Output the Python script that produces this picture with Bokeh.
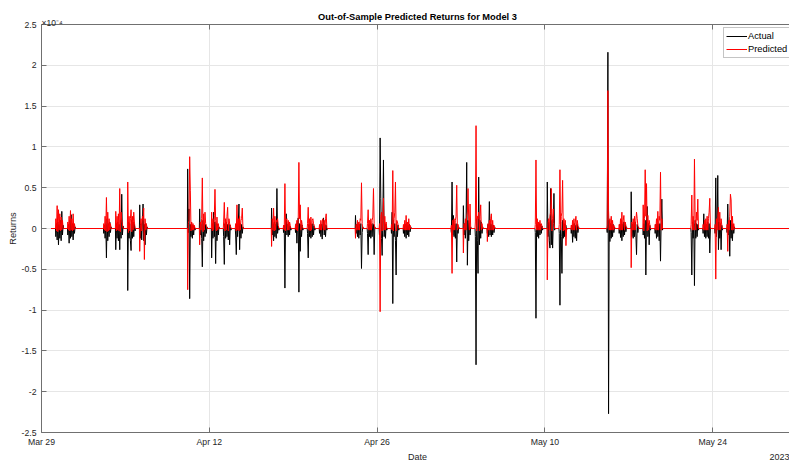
import pandas as pd
from bokeh.plotting import figure
from bokeh.models import (Range1d, FixedTicker, DatetimeAxis, Label, Legend,
                          LegendItem, ColumnDataSource)
from bokeh.embed import file_html
from bokeh.resources import INLINE

# ---------------- data (returns in units of 1e-4) ----------------
TRADING_DAYS = ["2023-03-30", "2023-03-31", "2023-04-03", "2023-04-04", "2023-04-05",
                "2023-04-06", "2023-04-10", "2023-04-11", "2023-04-12", "2023-04-13",
                "2023-04-14", "2023-04-17", "2023-04-18", "2023-04-19", "2023-04-20",
                "2023-04-21", "2023-04-24", "2023-04-25", "2023-04-26", "2023-04-27",
                "2023-04-28", "2023-05-02", "2023-05-03", "2023-05-04", "2023-05-05",
                "2023-05-09", "2023-05-10", "2023-05-11", "2023-05-12", "2023-05-15",
                "2023-05-16", "2023-05-17", "2023-05-18", "2023-05-19", "2023-05-22",
                "2023-05-23", "2023-05-24", "2023-05-25"]

ACTUAL = [
    [-0.10, 0.06, -0.14, 0.08, -0.20, 0.05, -0.12, 0.10, -0.15, 0.21, -0.08, 0.04],
    [-0.08, 0.05, -0.18, 0.10, -0.12, 0.17, -0.10, 0.06, -0.14, 0.05, -0.06, 0.02],
    [-0.06, 0.04, -0.12, 0.05, -0.36, 0.12, -0.15, 0.06, -0.10, 0.08, -0.05, 0.02],
    [-0.26, 0.06, -0.12, 0.08, -0.15, 0.05, -0.26, 0.10, -0.12, 0.42, -0.08, 0.03],
    [-0.76, 0.08, -0.12, 0.06, -0.15, -0.27, 0.10, -0.12, 0.08, -0.10, 0.05, -0.03],
    [0.29, -0.12, 0.06, -0.14, 0.08, 0.30, -0.15, 0.05, -0.20, 0.06, -0.08, 0.02],
    [0.73, -0.05, 0.24, -0.86, 0.05, -0.10, 0.06, -0.12, 0.04, -0.08, 0.03, -0.02],
    [0.24, -0.08, 0.06, -0.12, -0.47, 0.10, -0.15, 0.06, -0.10, 0.05, -0.06, 0.02],
    [-0.36, 0.06, -0.12, 0.20, -0.10, 0.08, -0.43, 0.06, -0.15, 0.05, -0.08, 0.02],
    [-0.10, -0.44, 0.06, -0.12, 0.08, -0.10, 0.05, -0.14, 0.06, -0.20, 0.04, -0.02],
    [-0.08, -0.32, 0.05, -0.10, 0.08, 0.30, -0.26, 0.06, -0.12, 0.05, -0.06, 0.02],
    [0.25, -0.08, 0.06, -0.15, 0.08, -0.10, 0.05, -0.12, 0.49, -0.06, 0.03, -0.02],
    [-0.05, 0.04, -0.73, 0.06, 0.18, -0.08, 0.05, -0.10, 0.06, -0.08, 0.03, -0.02],
    [-0.05, 0.06, -0.18, 0.05, 0.13, -0.78, 0.06, -0.28, 0.05, -0.10, 0.04, -0.02],
    [-0.06, -0.36, 0.05, -0.10, 0.06, -0.12, 0.05, -0.10, 0.06, -0.08, 0.03, -0.02],
    [-0.06, 0.04, -0.10, 0.05, -0.13, 0.06, 0.13, -0.08, 0.05, -0.10, 0.04, -0.02],
    [0.16, -0.06, 0.05, -0.10, 0.06, -0.12, 0.05, -0.08, 0.06, -0.49, -0.05, 0.02],
    [-0.06, -0.32, 0.05, -0.10, 0.06, -0.12, 0.05, -0.10, 0.06, 0.05, -0.32, 0.02],
    [-0.08, 1.11, 0.37, -0.12, -0.33, 0.10, 0.84, -0.10, 0.06, -0.12, 0.05, -0.02],
    [-0.06, 0.20, -0.92, 0.10, -0.10, 0.06, -0.15, -0.57, 0.05, -0.10, 0.04, -0.02],
    [-0.06, 0.04, -0.10, 0.05, -0.12, 0.06, -0.08, 0.04, -0.10, 0.05, -0.04, 0.02],
    [-0.05, 0.57, -0.08, 0.16, -0.10, 0.05, -0.12, 0.06, -0.41, 0.05, -0.06, 0.02],
    [0.28, -0.08, 0.06, -0.12, 0.05, 0.81, -0.45, 0.10, -0.15, 0.06, -0.08, 0.02],
    [-0.10, -1.67, 0.12, -0.15, -0.55, 0.63, -0.20, 0.10, -0.12, 0.08, -0.06, 0.02],
    [-0.06, 0.05, -0.10, 0.33, -0.08, 0.06, -0.10, 0.05, -0.08, 0.04, -0.05, 0.02],
    [-0.05, -1.10, 0.06, -0.10, 0.05, -0.12, 0.06, -0.08, 0.05, -0.06, 0.03, -0.02],
    [0.57, -0.10, 0.08, -0.15, -0.24, 0.49, -0.20, 0.10, -0.24, 0.06, 0.43, -0.02],
    [-0.06, -0.94, 0.08, -0.10, -0.55, 0.10, -0.12, 0.06, -0.10, 0.05, 0.04, -0.02],
    [-0.06, 0.04, -0.17, 0.05, -0.10, 0.06, -0.12, 0.04, -0.15, 0.05, -0.05, 0.02],
    [-0.05, 2.16, -2.27, 0.10, -0.16, 0.06, -0.12, 0.05, -0.10, 0.05, -0.05, 0.02],
    [-0.06, 0.05, -0.11, 0.06, -0.15, 0.05, -0.10, 0.08, -0.08, 0.05, -0.04, 0.02],
    [0.45, -0.10, 0.05, -0.12, 0.06, -0.10, 0.08, -0.08, -0.32, 0.05, -0.05, 0.02],
    [-0.08, 0.06, -0.12, 0.10, -0.57, 0.08, 0.27, -0.10, 0.06, -0.20, 0.04, -0.02],
    [-0.06, 0.05, -0.12, 0.06, -0.10, 0.05, -0.15, 0.06, -0.40, 0.08, 0.36, -0.02],
    [-0.05, -0.57, 0.08, -0.12, 0.06, -0.70, 0.10, -0.12, 0.06, -0.10, 0.05, -0.02],
    [-0.06, 0.18, -0.10, 0.06, -0.12, 0.05, -0.10, 0.08, -0.12, 0.06, -0.30, 0.02],
    [-0.06, 0.62, -0.10, 0.08, 0.65, -0.26, 0.08, -0.12, 0.06, -0.26, 0.04, -0.02],
    [-0.05, 0.30, -0.08, 0.06, -0.34, 0.10, -0.12, 0.06, -0.15, 0.05, -0.06, 0.02],
]

PREDICTED = [
    [0.12, -0.03, 0.28, -0.04, 0.23, -0.02, 0.18, -0.03, 0.14, -0.02, 0.10, 0.0],
    [0.08, -0.02, 0.15, -0.03, 0.22, -0.02, 0.12, -0.03, 0.18, -0.02, 0.06, 0.0],
    [0.06, -0.02, 0.15, -0.03, 0.38, -0.04, 0.20, -0.03, 0.12, -0.02, 0.06, 0.0],
    [0.21, -0.03, 0.15, -0.02, 0.18, -0.03, 0.49, -0.04, 0.20, 0.10, 0.06, 0.0],
    [0.57, -0.05, 0.15, -0.03, 0.12, 0.23, -0.04, 0.15, -0.02, 0.20, 0.08, 0.0],
    [-0.28, 0.05, 0.12, -0.03, 0.15, 0.10, 0.25, -0.38, 0.12, -0.02, 0.06, 0.0],
    [-0.75, 0.06, 0.10, 0.88, 0.47, -0.03, 0.08, -0.02, 0.06, -0.02, 0.04, 0.0],
    [-0.20, 0.08, -0.02, 0.12, 0.62, -0.04, 0.18, -0.02, 0.20, 0.06, 0.04, 0.0],
    [0.20, -0.03, 0.12, -0.02, 0.16, 0.48, 0.10, -0.03, 0.14, -0.02, 0.06, 0.0],
    [0.08, 0.32, -0.03, 0.12, -0.02, 0.15, 0.26, -0.03, 0.12, 0.06, 0.04, 0.0],
    [0.06, -0.03, 0.29, -0.02, 0.12, -0.03, 0.15, -0.02, 0.10, 0.12, 0.25, 0.0],
    [-0.22, 0.12, -0.02, 0.25, -0.03, 0.15, -0.02, 0.10, 0.08, 0.12, 0.04, 0.0],
    [0.04, -0.02, 0.55, -0.03, 0.10, 0.12, -0.02, 0.10, -0.02, 0.08, 0.04, 0.0],
    [0.05, -0.02, 0.10, -0.03, 0.08, 0.81, 0.12, 0.29, -0.02, 0.10, 0.04, 0.0],
    [0.06, 0.26, -0.02, 0.12, -0.03, 0.14, -0.02, 0.10, 0.12, 0.06, 0.04, 0.0],
    [0.05, -0.02, 0.10, -0.02, 0.08, 0.12, -0.02, 0.10, -0.02, 0.12, 0.18, 0.0],
    [-0.12, 0.05, -0.02, 0.10, -0.02, 0.08, -0.02, 0.12, 0.10, 0.56, 0.06, 0.0],
    [0.06, 0.23, -0.02, 0.10, -0.02, 0.12, -0.02, 0.10, 0.14, 0.49, 0.06, 0.0],
    [0.06, -1.02, 0.15, 0.20, -0.03, 0.12, 0.37, -0.02, 0.15, -0.02, 0.08, 0.0],
    [0.05, -0.02, 0.71, -0.03, 0.12, 0.20, 0.57, -0.03, 0.10, 0.08, 0.04, 0.0],
    [0.05, -0.02, 0.10, -0.02, 0.16, -0.02, 0.08, -0.02, 0.12, -0.02, 0.04, 0.0],
    [0.04, -0.55, 0.10, -0.02, 0.12, -0.02, 0.10, 0.15, 0.53, -0.02, 0.05, 0.0],
    [-0.30, 0.06, -0.02, 0.12, -0.02, 0.15, 0.20, 0.49, 0.10, -0.02, 0.30, 0.0],
    [0.08, 1.26, -0.03, 0.15, 0.12, 0.20, -0.03, 0.15, 0.29, -0.02, 0.06, 0.0],
    [-0.16, 0.06, -0.02, 0.10, -0.02, 0.12, 0.18, -0.02, 0.10, -0.02, 0.04, 0.0],
    [0.05, 0.84, -0.02, 0.12, -0.02, 0.08, -0.02, 0.10, -0.02, 0.06, 0.03, 0.0],
    [-0.63, 0.06, 0.12, -0.02, 0.15, 0.20, 0.49, -0.03, 0.12, 0.24, 0.08, 0.0],
    [0.05, 0.72, -0.02, 0.15, 0.20, 0.59, -0.03, 0.12, -0.02, 0.10, -0.21, 0.0],
    [0.04, -0.02, 0.10, -0.02, 0.12, -0.02, 0.08, 0.15, -0.02, 0.10, 0.04, 0.0],
    [0.04, 1.69, 0.22, -0.02, 0.12, -0.02, 0.15, -0.02, 0.10, -0.02, 0.04, 0.0],
    [0.05, -0.02, 0.12, -0.02, 0.20, -0.02, 0.10, 0.16, -0.02, 0.08, 0.04, 0.0],
    [-0.48, 0.08, -0.02, 0.12, -0.02, 0.15, -0.02, 0.10, 0.20, 0.12, 0.04, 0.0],
    [0.29, -0.03, 0.12, 0.72, 0.15, 0.55, -0.03, 0.16, -0.02, 0.10, 0.04, 0.0],
    [0.05, -0.02, 0.12, -0.02, 0.21, -0.02, 0.15, 0.10, 0.69, -0.02, 0.12, 0.0],
    [0.05, 0.41, -0.02, 0.15, -0.02, 0.85, 0.12, -0.02, 0.20, 0.10, 0.36, 0.0],
    [0.05, -0.02, 0.10, -0.02, 0.12, -0.02, 0.15, -0.02, 0.12, 0.20, 0.37, 0.0],
    [0.05, -0.62, 0.12, -0.02, 0.15, 0.26, -0.02, 0.20, -0.02, 0.12, 0.04, 0.0],
    [0.05, -0.28, 0.10, -0.02, 0.15, 0.42, 0.35, -0.02, 0.15, -0.02, 0.06, 0.0],
]

SERIES_START = "2023-03-29 19:00"
SERIES_END = "2023-06-01 00:00"
SESSION_OPEN_HOUR = 4
SESSION_CLOSE_HOUR = 20

X_START = "2023-03-29"
X_SPAN_DAYS = 62.4
X_TICKS = ["2023-03-29", "2023-04-12", "2023-04-26", "2023-05-10", "2023-05-24"]
X_TICK_LABELS = ["Mar 29", "Apr 12", "Apr 26", "May 10", "May 24"]
Y_TICKS = [-2.5, -2.0, -1.5, -1.0, -0.5, 0.0, 0.5, 1.0, 1.5, 2.0, 2.5]
Y_TICK_LABELS = ["-2.5", "-2", "-1.5", "-1", "-0.5", "0", "0.5", "1", "1.5", "2", "2.5"]
TITLE = "Out-of-Sample Predicted Returns for Model 3"
X_LABEL = "Date"
Y_LABEL = "Returns"
YEAR_LABEL = "2023"
EXPONENT_LABEL = "\u00d710\u207b\u2074"


def ms(ts):
    return pd.Timestamp(ts).value / 1e6


def build_series(values_per_day):
    t = [ms(SERIES_START)]
    v = [0.0]
    for day, vals in zip(TRADING_DAYS, values_per_day):
        d = pd.Timestamp(day)
        o = d + pd.Timedelta(hours=SESSION_OPEN_HOUR)
        c = d + pd.Timedelta(hours=SESSION_CLOSE_HOUR)
        step = (c - o) / len(vals)
        t.append(ms(o)); v.append(0.0)
        for i, val in enumerate(vals):
            t.append(ms(o + step * (i + 0.5))); v.append(val)
        t.append(ms(c)); v.append(0.0)
    t.append(ms(SERIES_END)); v.append(0.0)
    return t, v


ta, va = build_series(ACTUAL)
tp, vp = build_series(PREDICTED)

FONT = "Liberation Sans"
TEXT_C = "#262626"
AXIS_C = "#707070"
GRID_C = "#e6e6e6"

x0 = ms(X_START)
DAY_MS = 86400000.0
x1 = x0 + X_SPAN_DAYS * DAY_MS
PX_PER_DAY = 12.0


def dx(px):
    return x0 + px / PX_PER_DAY * DAY_MS


p = figure(width=789, height=464, x_axis_type="datetime",
           x_range=Range1d(x0, x1), y_range=Range1d(-2.5, 2.5),
           output_backend="svg", toolbar_location=None,
           min_border_left=41, min_border_right=0, min_border_top=24,
           min_border_bottom=28, background_fill_color="white",
           border_fill_color="white", outline_line_color=None)

xt = FixedTicker(ticks=[ms(d) for d in X_TICKS], minor_ticks=[])
yt = FixedTicker(ticks=Y_TICKS, minor_ticks=[])

xa = p.xaxis[0]
xa.ticker = xt
xa.major_label_overrides = {int(ms(d)): lab for d, lab in zip(X_TICKS, X_TICK_LABELS)}
ya = p.yaxis[0]
ya.ticker = yt
ya.major_label_overrides = {float(v): lab for v, lab in zip(Y_TICKS, Y_TICK_LABELS)}

for ax in (xa, ya):
    ax.axis_line_color = AXIS_C
    ax.major_tick_line_color = AXIS_C
    ax.major_tick_in = 5
    ax.major_tick_out = 0
    ax.minor_tick_in = 0
    ax.minor_tick_out = 0
    ax.major_label_text_font = FONT
    ax.major_label_text_font_size = "8.7px"
    ax.major_label_text_color = TEXT_C
    ax.axis_label_text_font = FONT
    ax.axis_label_text_font_size = "9.3px"
    ax.axis_label_text_font_style = "normal"
    ax.axis_label_text_color = TEXT_C
xa.major_label_standoff = 4
ya.major_label_standoff = 5
ya.axis_label = Y_LABEL
ya.axis_label_standoff = 1

# top frame edge with inward ticks (first item of the top panel = next to the frame)
top = DatetimeAxis(ticker=xt, axis_line_color=AXIS_C, major_tick_line_color=AXIS_C,
                   major_tick_in=5, major_tick_out=0, minor_tick_in=0, minor_tick_out=0,
                   major_label_overrides={int(ms(d)): "" for d in X_TICKS},
                   major_label_text_font_size="0px", major_label_standoff=0)

# exponent marker (second item) and title (third item, drawn down onto the same row)
exp_label = Label(x=0, y=1.5, x_units="screen", y_units="screen", text=EXPONENT_LABEL,
                  text_font=FONT, text_font_size="8.5px", text_color=TEXT_C,
                  text_align="left", text_baseline="alphabetic")
title_label = Label(x=376, y=-2.3, x_units="screen", y_units="screen", text=TITLE,
                    text_font=FONT, text_font_size="9.3px", text_font_style="bold",
                    text_color="black", text_align="center", text_baseline="middle")
p.above = [top, exp_label, title_label]

# second row below the dates: the "Date" caption and the year
pos_date = dx(376.5)
pos_year = dx(739.5)
cap = DatetimeAxis(ticker=FixedTicker(ticks=[pos_date, pos_year], minor_ticks=[]),
                   major_label_overrides={pos_date: X_LABEL, pos_year: YEAR_LABEL},
                   axis_line_color=None, major_tick_line_color=None,
                   major_tick_in=0, major_tick_out=0, minor_tick_in=0, minor_tick_out=0,
                   major_label_standoff=2, major_label_text_font=FONT,
                   major_label_text_font_size="9px", major_label_text_color=TEXT_C)
p.add_layout(cap, "below")

p.xgrid.ticker = xt
p.ygrid.ticker = yt
for g in (p.xgrid, p.ygrid):
    g.grid_line_color = GRID_C
    g.grid_line_width = 1

ra = p.line(x="t", y="v", source=ColumnDataSource(dict(t=ta, v=va)),
            line_color="black", line_width=1)
rp = p.line(x="t", y="v", source=ColumnDataSource(dict(t=tp, v=vp)),
            line_color="#ff0000", line_width=1)

legend = Legend(items=[LegendItem(label="Actual", renderers=[ra]),
                       LegendItem(label="Predicted", renderers=[rp])],
                location=(682, 374), orientation="vertical",
                label_text_font=FONT, label_text_font_size="9.3px",
                label_text_color="black", glyph_width=21, glyph_height=12,
                label_height=12, label_standoff=1, padding=2, spacing=1,
                margin=0, border_line_color="#8a8a8a", border_line_width=1,
                background_fill_color="white", background_fill_alpha=1)
p.add_layout(legend)

open("out.html", "w").write(file_html(p, INLINE))
